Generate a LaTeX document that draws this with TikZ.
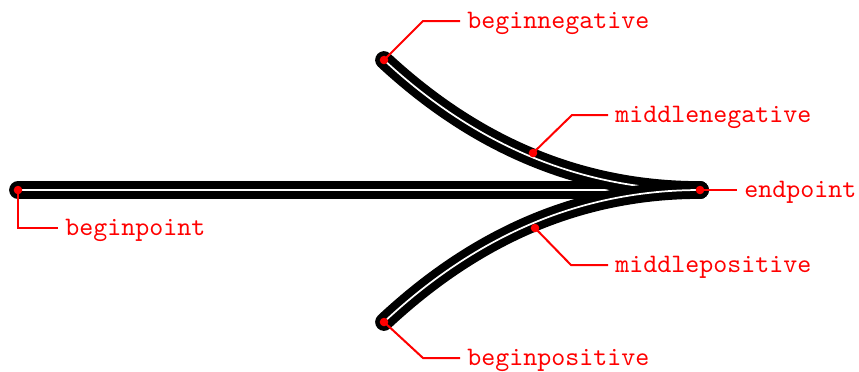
\documentclass[tikz,border=0pt]{standalone}
\begin{document}
\begin{tikzpicture}[x=0.375pt,y=-0.375pt,
  arrowline/.style={line width=3pt, double=white, double distance=0.65pt, line cap=round},
  annot/.style={red, line width=0.75pt},
  dot/.style={circle, fill=red, inner sep=0pt, minimum size=3.2pt},
  lbl/.style={text=red, font=\ttfamily, anchor=west, inner sep=2.6pt, text height=1.5ex, text depth=0.25ex}]
\useasboundingbox (0,0) rectangle (859,371);
% key points
\coordinate (bp) at (18,190);
\coordinate (ep) at (700,190);
\coordinate (bn) at (384,60);
\coordinate (bpos) at (384,322);
\coordinate (mn) at (533,153);
\coordinate (mp) at (535,228);
% arrow body
\draw[arrowline] (bp) -- (ep);
\draw[arrowline] (bn) .. controls (477.3,146.7) and (582.7,190) .. (ep);
\draw[arrowline] (bpos) .. controls (478,234) and (582.7,190) .. (ep);
% labels
\node[lbl] (Lbp) at (58,228) {beginpoint};
\node[lbl] (Lbn) at (460,21) {beginnegative};
\node[lbl] (Lmn) at (608,115) {middlenegative};
\node[lbl] (Lep) at (737,190) {endpoint};
\node[lbl] (Lmp) at (608,265) {middlepositive};
\node[lbl] (Lbpos) at (460,358) {beginpositive};
\coordinate (Ebn) at (423,21);
\coordinate (Emn) at (572,115);
\coordinate (Emp) at (571,265);
\coordinate (Ebpos) at (423,358);
% annotation lines
\draw[annot] (bp) |- (Lbp.west);
\draw[annot] (bn) -- (Ebn) -- (Lbn.west);
\draw[annot] (mn) -- (Emn) -- (Lmn.west);
\draw[annot] (ep) -- (Lep.west);
\draw[annot] (mp) -- (Emp) -- (Lmp.west);
\draw[annot] (bpos) -- (Ebpos) -- (Lbpos.west);
% dots
\foreach \p in {bp,ep,bn,bpos,mn,mp} \node[dot] at (\p) {};
\end{tikzpicture}
\end{document}
